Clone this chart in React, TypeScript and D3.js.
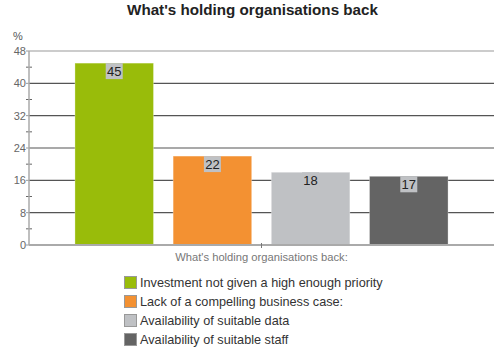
import React from "react";
import * as d3 from "d3";

const title = "What's holding organisations back";
const category = "What's holding organisations back:";
const seriesNames = [
  "Investment not given a high enough priority",
  "Lack of a compelling business case:",
  "Availability of suitable data",
  "Availability of suitable staff",
];
const seriesValues = [45, 22, 18, 17];
const seriesColors = ["#99bc0a", "#f39132", "#bfc1c4", "#646464"];
const yTicks = [0, 8, 16, 24, 32, 40, 48];
const yMinorTicks = [4, 12, 20, 28, 36, 44];

const W = 500;
const H = 361;
const left = 29;
const right = 494;
const top = 51;
const bottom = 245;
const font = "'Liberation Sans', Arial, sans-serif";

export default function App() {
  const y = d3.scaleLinear().domain([0, 48]).range([bottom, top]);
  const xOuter = d3.scaleBand().domain([category]).range([left, right]).paddingInner(0).paddingOuter(0.092);
  const x = d3
    .scaleBand<string>()
    .domain(seriesNames)
    .range([xOuter(category)!, xOuter(category)! + xOuter.bandwidth()])
    .paddingInner(0.2)
    .paddingOuter(0.1);
  const cx = xOuter(category)! + xOuter.bandwidth() / 2;

  return (
    <svg
      width={W}
      height={H}
      style={{ position: "absolute", left: 0, top: 0, fontFamily: font }}
    >
      <rect width={W} height={H} fill="#fff" />
      <text x={252.5} y={15} textAnchor="middle" fontSize={15.2} fontWeight="bold" fill="#222">
        {title}
      </text>
      <text x={13} y={40} fontSize={11} fill="#555">%</text>
      {yTicks.map((t) => (
        <g key={t}>
          <line
            x1={left}
            x2={right}
            y1={y(t)}
            y2={y(t)}
            stroke={t === 0 ? "#aaa" : t === 48 ? "#999" : "#555"}
            strokeWidth={t === 0 ? 2 : 1.2}
          />
          <line x1={left - 3} x2={left} y1={y(t)} y2={y(t)} stroke="#999" />
          <text x={26} y={y(t)} dy="0.35em" textAnchor="end" fontSize={11} fill="#666">
            {t}
          </text>
        </g>
      ))}
      {yMinorTicks.map((t) => (
        <line key={t} x1={left - 3} x2={left + 3} y1={y(t)} y2={y(t)} stroke="#666" />
      ))}
      <line x1={left} x2={left} y1={top} y2={bottom} stroke="#aaa" strokeWidth={1.5} />
      {seriesNames.map((s, i) => {
        const v = seriesValues[i];
        const bx = x(s)!;
        const bw = x.bandwidth();
        return (
          <g key={s}>
            <rect x={bx} y={y(v)} width={bw} height={bottom - y(v)} fill={seriesColors[i]} stroke="#fff" strokeOpacity={0.3} />
            <rect x={bx + bw / 2 - 8.5} y={y(v)} width={17} height={16} fill="#bfc1c4" />
            <text x={bx + bw / 2} y={y(v) + 13} textAnchor="middle" fontSize={13} fill="#222">
              {v}
            </text>
          </g>
        );
      })}
      <line x1={left} x2={right} y1={bottom} y2={bottom} stroke="#aaa" strokeWidth={2} />
      <line x1={cx} x2={cx} y1={bottom - 2} y2={bottom + 3} stroke="#777" />
      <text x={cx} y={261} textAnchor="middle" fontSize={11.2} fill="#777">
        {category}
      </text>
      {seriesNames.map((s, i) => (
        <g key={s} transform={`translate(124, ${276 + i * 19})`}>
          <rect x={0.5} y={0.5} width={12} height={12} fill={seriesColors[i]} stroke="#999" />
          <text x={16} y={6.5} dy="0.35em" fontSize={12.7} fill="#333">
            {s}
          </text>
        </g>
      ))}
    </svg>
  );
}
